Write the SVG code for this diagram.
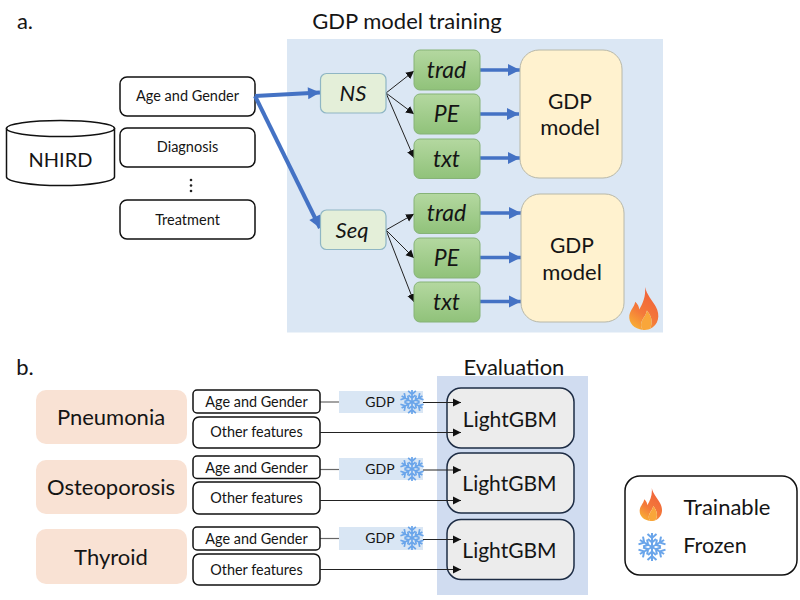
<svg xmlns="http://www.w3.org/2000/svg" xmlns:xlink="http://www.w3.org/1999/xlink" width="800" height="600" viewBox="0 0 800 600">
<style>
text{font-family:"Lato","Liberation Sans",sans-serif;fill:#151515;text-anchor:middle}
.bk{fill:#fff;stroke:#111;stroke-width:1.5}
.src{font-size:14.5px}
.sm{font-size:14.4px}
.i{font-style:italic;font-size:23px}
.big{font-size:22px}
.h{font-size:22px}
.lg{font-size:21px}
.green{fill:url(#gr);stroke:#86b377;stroke-width:1}
.pale{fill:#e4efd9;stroke:#8fb6c4;stroke-width:1.2}
.gdp{fill:#fff2cf;stroke:#b8b8a8;stroke-width:1}
.pink{fill:#f9e2d4}
.band{fill:#d9e6f4}
.lgbm{fill:#ececec;stroke:#1d2c44;stroke-width:1.5}
.thick{stroke:#4472c4;fill:none}
.thin{stroke:#222;stroke-width:1;fill:none}
.gray{stroke:#666;stroke-width:1.2;fill:none}
</style>
<defs>
<marker id="ah" markerUnits="userSpaceOnUse" markerWidth="9" markerHeight="9" refX="8" refY="4.5" orient="auto"><path d="M0 0.5L8 4.5L0 8.5Z" fill="#111"/></marker>
<marker id="bh" markerUnits="userSpaceOnUse" markerWidth="14" markerHeight="14" refX="13" refY="7" orient="auto"><path d="M1 1L13 7L1 13Z" fill="#4472c4"/></marker>
<linearGradient id="gr" x1="0" y1="0" x2="0" y2="1"><stop offset="0" stop-color="#b4d8a0"/><stop offset="1" stop-color="#90c27a"/></linearGradient>
<linearGradient id="fl" x1="0.7" y1="0" x2="0.2" y2="1"><stop offset="0" stop-color="#f0603a"/><stop offset="0.6" stop-color="#f47a3a"/><stop offset="1" stop-color="#f9b233"/></linearGradient>
<symbol id="flame" viewBox="0 0 32 44" overflow="visible">
<path d="M17 0C19 8 24 13 28 20C33 29 31 39 22 43C26 35 23 29 19 24C18 30 13 33 13 39C13 41 14 43 15 44C6 43 0 37 1 29C2 23 6 21 7 15C10 18 11 20 11 23C15 17 18 9 17 0Z" fill="url(#fl)"/>
<path d="M19 24C23 29 26 35 22 43C20 44 17 44 15 44C14 43 13 41 13 39C13 33 18 30 19 24Z" fill="#f9a63a"/>
</symbol>
<g id="flake-arm"><path d="M0 0V-14M-4.500 -13L0 -9L4.500 -13M-4 -8L0 -4.500L4 -8"/></g>
<symbol id="snow" viewBox="-14 -14 28 28" overflow="visible">
<g fill="none" stroke="#6aa5ea" stroke-width="2">
<use xlink:href="#flake-arm"/><use xlink:href="#flake-arm" transform="rotate(60)"/><use xlink:href="#flake-arm" transform="rotate(120)"/><use xlink:href="#flake-arm" transform="rotate(180)"/><use xlink:href="#flake-arm" transform="rotate(240)"/><use xlink:href="#flake-arm" transform="rotate(300)"/>
</g>
</symbol>
</defs>

<g id="panels">
<rect x="287" y="39" width="376" height="293.500" fill="#dbe7f4"/>
<rect x="437" y="376" width="151" height="219" fill="#d0dcf0"/>
</g>

<g id="titles">
<text x="25" y="29" class="h">a.</text>
<text x="407" y="29" class="h">GDP model training</text>
<text x="25" y="375" class="h">b.</text>
<text x="514" y="375" class="h">Evaluation</text>
</g>

<g id="nhird">
<path class="bk" d="M6.500 128.500V177C6.500 181.500 31 185.500 60.500 185.500S114.500 181.500 114.500 177V128.500Z"/>
<ellipse class="bk" cx="60.500" cy="128.500" rx="54" ry="8"/>
<text x="60.500" y="166.500" class="big" style="font-size:20px">NHIRD</text>
</g>
<g id="src-age"><rect class="bk" x="120" y="77" width="135" height="39" rx="7"/><text x="187.500" y="101" class="src">Age and Gender</text></g>
<g id="src-diag"><rect class="bk" x="120" y="128" width="135" height="39" rx="7"/><text x="187.500" y="152" class="src">Diagnosis</text></g>
<g id="src-dots"><circle cx="191" cy="180" r="1.300" fill="#222"/><circle cx="191" cy="185.500" r="1.300" fill="#222"/><circle cx="191" cy="191" r="1.300" fill="#222"/></g>
<g id="src-treat"><rect class="bk" x="120" y="200" width="135" height="39" rx="7"/><text x="187.500" y="225" class="src">Treatment</text></g>

<g id="connectors">
<path class="thick" stroke-width="4" marker-end="url(#bh)" d="M255 96L320 92.500"/>
<path class="thick" stroke-width="4" marker-end="url(#bh)" d="M255 96L320 228"/>
<path class="thin" marker-end="url(#ah)" d="M386 93L414 71"/>
<path class="thin" marker-end="url(#ah)" d="M386 93L414 114"/>
<path class="thin" marker-end="url(#ah)" d="M386 93L414 158"/>
<path class="thin" marker-end="url(#ah)" d="M386 230L414 214"/>
<path class="thin" marker-end="url(#ah)" d="M386 230L414 258"/>
<path class="thin" marker-end="url(#ah)" d="M386 230L414 302"/>
<path class="thick" stroke-width="3.500" marker-end="url(#bh)" d="M480 70H520"/>
<path class="thick" stroke-width="3.500" marker-end="url(#bh)" d="M480 114H519"/>
<path class="thick" stroke-width="3.500" marker-end="url(#bh)" d="M480 158H520"/>
<path class="thick" stroke-width="3.500" marker-end="url(#bh)" d="M480 213H521"/>
<path class="thick" stroke-width="3.500" marker-end="url(#bh)" d="M480 257.500H521"/>
<path class="thick" stroke-width="3.500" marker-end="url(#bh)" d="M480 301.500H521"/>
<path class="gray" d="M320 402H339"/><path class="gray" d="M320 469.500H339"/><path class="gray" d="M320 538.500H339"/>
</g>

<g id="ns"><rect class="pale" x="320.500" y="73.500" width="65.500" height="39.500" rx="6"/><text x="353" y="101" class="i" style="font-size:22px">NS</text></g>
<g id="seq"><rect class="pale" x="320.500" y="210" width="65.500" height="39.500" rx="6"/><text x="352" y="238" class="i" style="font-size:22px">Seq</text></g>

<g id="t1"><rect class="green" x="414" y="50" width="66" height="40" rx="6"/><text x="446.500" y="78" class="i">trad</text></g>
<g id="p1"><rect class="green" x="414" y="94" width="66" height="40" rx="6"/><text x="446.500" y="122" class="i">PE</text></g>
<g id="x1"><rect class="green" x="414" y="139" width="66" height="39.500" rx="6"/><text x="446.500" y="167" class="i">txt</text></g>
<g id="t2"><rect class="green" x="414" y="193.500" width="66" height="40" rx="6"/><text x="446.500" y="221" class="i">trad</text></g>
<g id="p2"><rect class="green" x="414" y="238" width="66" height="40" rx="6"/><text x="446.500" y="266" class="i">PE</text></g>
<g id="x2"><rect class="green" x="414" y="282" width="66" height="40" rx="6"/><text x="446.500" y="310" class="i">txt</text></g>

<g id="gdp1"><rect class="gdp" x="520" y="50" width="102" height="128" rx="19"/><text x="570" y="109" class="big" style="font-size:21px">GDP</text><text x="570" y="135" class="big">model</text></g>
<g id="gdp2"><rect class="gdp" x="521" y="194" width="103" height="128" rx="19"/><text x="572" y="253" class="big" style="font-size:21px">GDP</text><text x="572" y="280" class="big">model</text></g>
<g id="fire"><use xlink:href="#flame" x="628" y="287" width="32" height="43"/></g>

<g id="dis1"><rect class="pink" x="36" y="390" width="151" height="54" rx="10"/><text x="111" y="425" class="big">Pneumonia</text></g>
<g id="dis2"><rect class="pink" x="36" y="460" width="151" height="54" rx="10"/><text x="111" y="495" class="big">Osteoporosis</text></g>
<g id="dis3"><rect class="pink" x="36" y="529" width="151" height="55" rx="10"/><text x="111" y="565" class="big">Thyroid</text></g>

<g id="band1"><rect class="band" x="339" y="391" width="84" height="22"/><text x="380" y="407" style="font-size:14px">GDP</text><use xlink:href="#snow" x="400" y="390" width="24" height="24"/></g>
<g id="band2"><rect class="band" x="339" y="458" width="84" height="22"/><text x="380" y="474" style="font-size:14px">GDP</text><use xlink:href="#snow" x="400" y="457" width="24" height="24"/></g>
<g id="band3"><rect class="band" x="339" y="527" width="84" height="23"/><text x="380" y="543" style="font-size:14px">GDP</text><use xlink:href="#snow" x="400" y="526" width="24" height="24"/></g>

<g id="lgbm1"><rect class="lgbm" x="447" y="388" width="127" height="60" rx="14"/><text x="510" y="427" class="lg">LightGBM</text></g>
<g id="lgbm2"><rect class="lgbm" x="447" y="453" width="127" height="60" rx="14"/><text x="509.500" y="491" class="lg">LightGBM</text></g>
<g id="lgbm3"><rect class="lgbm" x="447" y="519.500" width="127" height="60" rx="14"/><text x="509.500" y="558" class="lg">LightGBM</text></g>

<g id="feat">
<rect class="bk" x="193" y="390" width="127" height="23" rx="4"/><text x="256.500" y="407" class="sm">Age and Gender</text>
<rect class="bk" x="193" y="417" width="127" height="31" rx="6"/><text x="256.500" y="437" class="sm">Other features</text>
<rect class="bk" x="193" y="456" width="127" height="22.500" rx="4"/><text x="256.500" y="473" class="sm">Age and Gender</text>
<rect class="bk" x="193" y="482" width="127" height="32" rx="6"/><text x="256.500" y="503" class="sm">Other features</text>
<rect class="bk" x="193" y="527" width="127" height="23" rx="4"/><text x="256.500" y="544" class="sm">Age and Gender</text>
<rect class="bk" x="193" y="554" width="127" height="31" rx="6"/><text x="256.500" y="575" class="sm">Other features</text>
</g>

<g id="eval-arrows">
<path class="thin" marker-end="url(#ah)" d="M423 402.500H461"/>
<path class="thin" marker-end="url(#ah)" d="M320 432.500H461"/>
<path class="thin" marker-end="url(#ah)" d="M423 470H461"/>
<path class="thin" marker-end="url(#ah)" d="M320 500.500H461"/>
<path class="thin" marker-end="url(#ah)" d="M423 539.500H461"/>
<path class="thin" marker-end="url(#ah)" d="M320 569.500H461"/>
</g>

<g id="legend">
<rect class="bk" x="625" y="476" width="172" height="99" rx="15"/>
<use xlink:href="#flame" x="639" y="488" width="24" height="33"/>
<use xlink:href="#snow" x="638" y="533" width="28" height="28"/>
<text x="727" y="515" style="font-size:22px">Trainable</text>
<text x="715" y="553" style="font-size:21.500px">Frozen</text>
</g>
</svg>
